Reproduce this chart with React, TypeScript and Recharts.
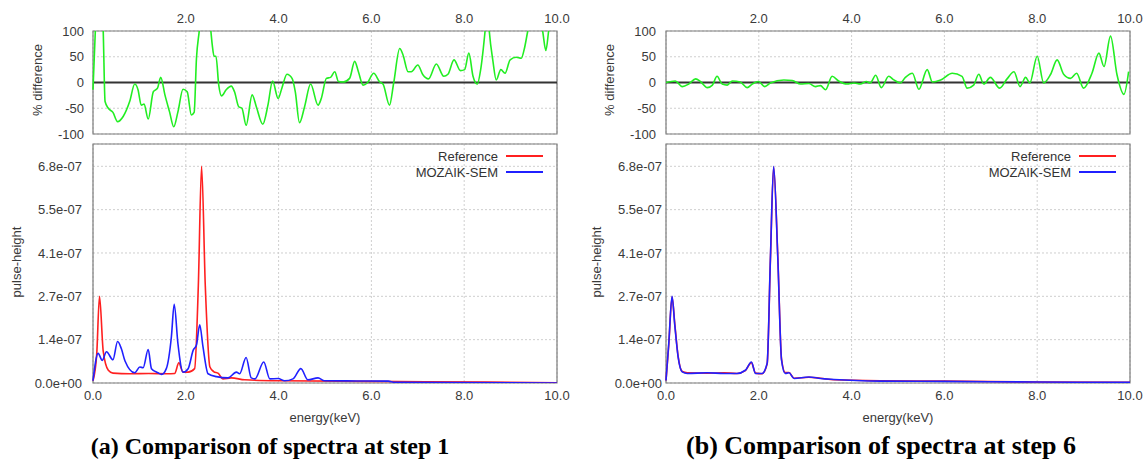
import React from "react";
import {
  LineChart,
  Line,
  XAxis,
  YAxis,
  CartesianGrid,
  ReferenceLine,
  ReferenceArea,
  Legend,
} from "recharts";

// axis ticks
const topEnergyTicks = [2, 4, 6, 8, 10];
const energyTicks = [0, 2, 4, 6, 8, 10];
const diffTicks = [-100, -50, 0, 50, 100];
const pulseTicks = [0, 1.36e-7, 2.72e-7, 4.08e-7, 5.44e-7, 6.8e-7];
const pulseLabels = ["0.0e+00", "1.4e-07", "2.7e-07", "4.1e-07", "5.5e-07", "6.8e-07"];

// % difference, [energy keV, %]  (values past +100 are cut by the frame)
const diffStep1: [number, number][] = [
  [0, -14], [0.05, 100], [0.13, 220], [0.22, 100], [0.26, -37], [0.33, -50], [0.43, -58],
  [0.53, -76], [0.65, -66], [0.79, -37], [0.9, -3], [0.97, -14], [1.04, -44], [1.1, -42],
  [1.19, -71], [1.3, -18], [1.39, -11], [1.46, 10], [1.55, -24], [1.65, -57], [1.74, -86],
  [1.83, -57], [1.94, -13], [2.03, -18], [2.12, -63], [2.18, -58], [2.23, 47], [2.29, 100],
  [2.4, 200], [2.54, 100], [2.57, 73], [2.61, 51], [2.65, 51], [2.71, -5], [2.77, -26],
  [2.87, -14], [2.98, -7], [3.05, -18], [3.14, -47], [3.21, -50], [3.3, -83], [3.43, -24],
  [3.52, -47], [3.66, -81], [3.77, -44], [3.87, 3], [3.99, -31], [4.07, -11], [4.18, 16],
  [4.29, 8], [4.36, -18], [4.45, -78], [4.56, -47], [4.69, -3], [4.85, -44], [4.92, -31],
  [5.03, 8], [5.12, 10], [5.21, 21], [5.29, 2], [5.39, 1], [5.53, 8], [5.64, 41], [5.72, 21],
  [5.82, -5], [5.91, -1], [6.05, 18], [6.18, 1], [6.25, -3], [6.39, -44], [6.48, -1],
  [6.61, 66], [6.68, 54], [6.79, 21], [6.86, 21], [7.0, 34], [7.11, 15], [7.23, 7],
  [7.4, 36], [7.56, 12], [7.65, 16], [7.78, 44], [7.92, 23], [8.01, 25], [8.1, 57],
  [8.19, 12], [8.28, -3], [8.36, 28], [8.45, 100], [8.5, 150], [8.54, 100], [8.62, 41],
  [8.69, 5], [8.79, 25], [8.88, 18], [8.99, 44], [9.12, 49], [9.23, 47], [9.3, 67],
  [9.37, 100], [9.5, 150], [9.69, 100], [9.76, 62], [9.82, 100], [9.9, 150], [10, 150],
];

const diffStep6: [number, number][] = [
  [0, 0], [0.2, 3], [0.35, -8], [0.49, -3], [0.64, 7], [0.74, 2], [0.89, -10], [1.0, -5],
  [1.1, 12], [1.21, -3], [1.32, -5], [1.43, 3], [1.6, 1], [1.75, -10], [1.86, -3], [1.99, 2],
  [2.13, -8], [2.25, -1], [2.54, 5], [2.72, 4], [2.9, -3], [3.08, -2], [3.22, -8], [3.33, -6],
  [3.44, -14], [3.58, 12], [3.72, 3], [3.9, -3], [4.05, -1], [4.19, -3], [4.32, 2], [4.4, -1],
  [4.52, 14], [4.64, -10], [4.8, 12], [4.91, 5], [5.05, -1], [5.16, 10], [5.31, 18],
  [5.45, -13], [5.63, 25], [5.74, 1], [5.92, 5], [6.17, 18], [6.38, 12], [6.49, -11],
  [6.63, -5], [6.74, 16], [6.85, -3], [6.99, 10], [7.19, -11], [7.35, 7], [7.5, 21],
  [7.63, -8], [7.75, 10], [7.84, -1], [8.0, 51], [8.14, -1], [8.29, 16], [8.43, 44],
  [8.57, 16], [8.72, 8], [8.85, 18], [9.0, -11], [9.18, 18], [9.33, 57], [9.44, 31],
  [9.58, 90], [9.72, 15], [9.87, -23], [9.97, 21],
];

// pulse-height, [energy keV, value in 1e-7]
const refStep1: [number, number][] = [
  [0, 0.07], [0.08, 0.9], [0.14, 2.72], [0.22, 1.0], [0.33, 0.4], [0.43, 0.31], [0.8, 0.29],
  [1.2, 0.3], [1.6, 0.29], [1.76, 0.3], [1.85, 0.63], [1.94, 0.34], [2.05, 0.34], [2.19, 0.45],
  [2.27, 3.05], [2.34, 6.8], [2.42, 3.05], [2.52, 0.5], [2.6, 0.36], [2.7, 0.3], [2.8, 0.13],
  [2.98, 0.16], [3.27, 0.1], [4.0, 0.07], [6.0, 0.05], [8.5, 0.03], [10, 0.01],
];

const mozStep1: [number, number][] = [
  [0, 0.07], [0.11, 0.93], [0.2, 0.71], [0.29, 0.98], [0.43, 0.73], [0.53, 1.3], [0.61, 1.08],
  [0.69, 0.69], [0.9, 0.32], [1.01, 0.5], [1.08, 0.48], [1.19, 1.05], [1.26, 0.45], [1.4, 0.32],
  [1.48, 0.27], [1.58, 0.45], [1.69, 1.46], [1.75, 2.47], [1.83, 1.24], [1.94, 0.34],
  [2.05, 0.45], [2.16, 1.03], [2.23, 1.19], [2.3, 1.83], [2.37, 1.14], [2.48, 0.29],
  [2.66, 0.2], [2.91, 0.16], [3.09, 0.34], [3.16, 0.29], [3.3, 0.8], [3.41, 0.16],
  [3.49, 0.13], [3.68, 0.66], [3.81, 0.13], [3.99, 0.14], [4.13, 0.07], [4.31, 0.13],
  [4.48, 0.45], [4.63, 0.1], [4.85, 0.16], [4.99, 0.07], [6.36, 0.06], [6.5, 0.02], [10, 0.0],
];

const refStep6: [number, number][] = [
  [0, 0.08], [0.06, 1.2], [0.13, 2.7], [0.19, 1.85], [0.26, 0.85], [0.35, 0.36], [0.46, 0.32],
  [0.89, 0.31], [1.25, 0.32], [1.53, 0.3], [1.71, 0.39], [1.84, 0.64], [1.93, 0.31],
  [2.07, 0.29], [2.18, 0.6], [2.25, 3.85], [2.32, 6.78], [2.41, 3.95], [2.49, 0.75],
  [2.57, 0.33], [2.65, 0.33], [2.76, 0.15], [3.08, 0.18], [3.33, 0.15], [3.62, 0.1],
  [4.62, 0.07], [6, 0.06], [8, 0.03], [10, 0.02],
];

const mozStep6: [number, number][] = [
  [0, 0.08], [0.06, 1.25], [0.13, 2.72], [0.19, 1.8], [0.26, 0.83], [0.35, 0.35], [0.46, 0.3],
  [0.89, 0.32], [1.25, 0.3], [1.53, 0.3], [1.71, 0.4], [1.84, 0.66], [1.93, 0.3], [2.07, 0.3],
  [2.18, 0.62], [2.25, 3.9], [2.32, 6.8], [2.41, 3.9], [2.49, 0.72], [2.57, 0.3], [2.65, 0.32],
  [2.76, 0.14], [3.08, 0.19], [3.33, 0.14], [3.62, 0.11], [4.62, 0.06], [6, 0.05], [8, 0.03],
  [10, 0.02],
];

const toPoints = (pairs: [number, number][], scale = 1) =>
  pairs.map(([e, v]) => ({ e, v: v * scale }));

const FONT = "'Liberation Sans', Arial, sans-serif";
const tickStyle = { fontSize: 13, fill: "#3a3a3a", fontFamily: FONT };
const GRID = "#cfcfcf";
const FRAME = "#7c7c7c";
const CAPTION = {
  position: "absolute" as const,
  width: 500,
  textAlign: "center" as const,
  fontFamily: "'Liberation Serif', 'Times New Roman', serif",
  fontWeight: "bold" as const,
};

function titleLabel(x: number, y: number, text: string) {
  return () => (
    <text
      x={x}
      y={y}
      transform={`rotate(-90, ${x}, ${y})`}
      textAnchor="middle"
      dominantBaseline="central"
      style={{ fontSize: 13, fill: "#3a3a3a", fontFamily: FONT }}
    >
      {text}
    </text>
  );
}

function renderLegend() {
  const rows = [
    { name: "Reference", color: "#ff2020" },
    { name: "MOZAIK-SEM", color: "#2020ff" },
  ];
  return (
    <div style={{ fontFamily: FONT, fontSize: 13, color: "#333" }}>
      {rows.map((r) => (
        <div key={r.name} style={{ display: "flex", alignItems: "center", height: 16 }}>
          <span style={{ width: 118, textAlign: "right" }}>{r.name}</span>
          <span style={{ width: 37, height: 2, background: r.color, marginLeft: 8 }} />
        </div>
      ))}
    </div>
  );
}

interface PanelProps {
  left: number;
  width: number;
  axisWidth: number;
  rightMargin: number;
  diff: [number, number][];
  reference: [number, number][];
  mozaik: [number, number][];
  diffTick: number;
  pulseTick: number;
  diffTitleX: number;
  pulseTitleX: number;
  legendLeft: number;
}

function Panel(p: PanelProps) {
  return (
    <>
      {/* % difference */}
      <div style={{ position: "absolute", left: p.left, top: 0 }}>
        <LineChart
          width={p.width}
          height={146}
          data={toPoints(p.diff)}
          margin={{ top: 0, right: p.rightMargin, bottom: 12, left: 0 }}
        >
          <CartesianGrid stroke={GRID} strokeDasharray="2 2" />
          <XAxis
            dataKey="e"
            type="number"
            orientation="top"
            domain={[0, 10]}
            ticks={topEnergyTicks}
            interval={0}
            tickFormatter={(v: number) => v.toFixed(1)}
            height={31}
            axisLine={false}
            tickLine={false}
            tick={tickStyle}
          />
          <YAxis
            type="number"
            domain={[-100, 100]}
            ticks={diffTicks}
            interval={0}
            allowDataOverflow
            width={p.axisWidth}
            tickSize={p.diffTick}
            axisLine={false}
            tickLine={false}
            tick={tickStyle}
            label={{ content: titleLabel(p.diffTitleX, 80, "% difference") }}
          />
          <ReferenceArea x1={0} x2={10} y1={-100} y2={100} fill="none" stroke={FRAME} strokeWidth={1.2} />
          <ReferenceLine y={0} stroke="#333" strokeWidth={2} />
          <Line
            type="monotone"
            dataKey="v"
            stroke="#22ee22"
            strokeWidth={1.6}
            dot={false}
            isAnimationActive={false}
          />
        </LineChart>
      </div>

      {/* pulse-height */}
      <div style={{ position: "absolute", left: p.left, top: 140 }}>
        <LineChart
          width={p.width}
          height={292}
          margin={{ top: 4, right: p.rightMargin, bottom: 0, left: 0 }}
        >
          <CartesianGrid stroke={GRID} strokeDasharray="2 2" />
          <XAxis
            dataKey="e"
            type="number"
            domain={[0, 10]}
            ticks={energyTicks}
            interval={0}
            tickFormatter={(v: number) => v.toFixed(1)}
            height={49}
            axisLine={false}
            tickLine={false}
            tick={tickStyle}
            label={{
              value: "energy(keV)",
              position: "insideBottom",
              offset: 10,
              style: { fontSize: 13, fill: "#3a3a3a", fontFamily: FONT },
            }}
          />
          <YAxis
            type="number"
            domain={[0, 7.5e-7]}
            ticks={pulseTicks}
            interval={0}
            tickFormatter={(_v: number, i: number) => pulseLabels[i]}
            allowDataOverflow
            width={p.axisWidth}
            tickSize={p.pulseTick}
            axisLine={false}
            tickLine={false}
            tick={tickStyle}
            label={{ content: titleLabel(p.pulseTitleX, 122, "pulse-height") }}
          />
          <ReferenceArea x1={0} x2={10} y1={0} y2={7.5e-7} fill="none" stroke={FRAME} strokeWidth={1.2} />
          <Legend
            verticalAlign="middle"
            align="center"
            content={renderLegend}
            wrapperStyle={{ top: 8, left: p.legendLeft, width: 170 }}
          />
          <Line
            data={toPoints(p.reference, 1e-7)}
            type="monotone"
            dataKey="v"
            name="Reference"
            stroke="#ff2020"
            strokeWidth={1.6}
            dot={false}
            isAnimationActive={false}
          />
          <Line
            data={toPoints(p.mozaik, 1e-7)}
            type="monotone"
            dataKey="v"
            name="MOZAIK-SEM"
            stroke="#2020ff"
            strokeWidth={1.6}
            dot={false}
            isAnimationActive={false}
          />
        </LineChart>
      </div>
    </>
  );
}

export default function App() {
  return (
    <div
      style={{
        position: "absolute",
        left: 0,
        top: 0,
        width: 1147,
        height: 464,
        background: "#fff",
        overflow: "hidden",
      }}
    >
      <Panel
        left={0}
        width={580}
        axisWidth={93}
        rightMargin={23}
        diff={diffStep1}
        reference={refStep1}
        mozaik={mozStep1}
        diffTick={7}
        pulseTick={9}
        diffTitleX={37}
        pulseTitleX={16}
        legendLeft={380}
      />
      <Panel
        left={580}
        width={567}
        axisWidth={86}
        rightMargin={17}
        diff={diffStep6}
        reference={refStep6}
        mozaik={mozStep6}
        diffTick={8}
        pulseTick={2}
        diffTitleX={29}
        pulseTitleX={16}
        legendLeft={373}
      />
      <div style={{ ...CAPTION, left: 20, top: 433, fontSize: 24 }}>
        (a) Comparison of spectra at step 1
      </div>
      <div style={{ ...CAPTION, left: 631, top: 431, fontSize: 26 }}>
        (b) Comparison of spectra at step 6
      </div>
    </div>
  );
}
